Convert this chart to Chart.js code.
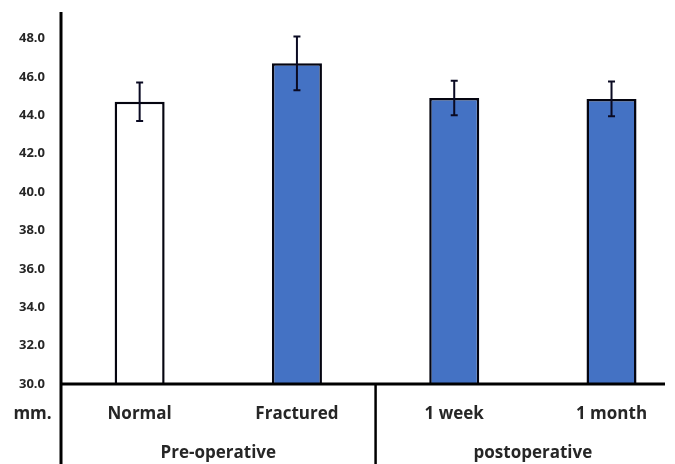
<!DOCTYPE html>
<html>
<head>
<meta charset="utf-8">
<script src="https://cdn.jsdelivr.net/npm/chart.js@4/dist/chart.umd.min.js"></script>
<style>
  html, body { margin: 0; padding: 0; background: #ffffff; }
  #wrap { width: 675px; height: 464px; }
</style>
</head>
<body>
<div id="wrap"><canvas id="chart" width="675" height="464"></canvas></div>
<script>
// Mean values (mm) with standard error for each measurement stage
const categories = ['Normal', 'Fractured', '1 week', '1 month'];
const meanValues = [44.7, 46.7, 44.9, 44.85];
const errorValues = [1.0, 1.4, 0.9, 0.9];
const groups = ['Pre-operative', 'postoperative'];
const groupSpans = [[0, 1], [2, 3]];
const yTickValues = [30, 32, 34, 36, 38, 40, 42, 44, 46, 48];
const unitLabel = 'mm.';

const fillColors = ['#ffffff', '#4472c4', '#4472c4', '#4472c4'];
const textColor = '#262626';
const fontFamily = '"Open Sans", Lato, "Liberation Sans", sans-serif';
const labelFont = 'bold 17px ' + fontFamily;

// Axis lines, the stage table below the axis and the group captions
const tablePlugin = {
  id: 'tablePlugin',
  afterDraw(chart) {
    const { ctx, chartArea, scales } = chart;
    const x = scales.x;
    const bottom = chart.height;
    ctx.save();
    ctx.strokeStyle = '#000000';
    ctx.lineCap = 'butt';
    // vertical axis, running down through the table
    ctx.lineWidth = 3;
    ctx.beginPath();
    ctx.moveTo(chartArea.left, chartArea.top);
    ctx.lineTo(chartArea.left, bottom);
    ctx.stroke();
    // horizontal axis
    ctx.beginPath();
    ctx.moveTo(chartArea.left, chartArea.bottom);
    ctx.lineTo(chartArea.right, chartArea.bottom);
    ctx.stroke();
    // divider between the two groups
    ctx.lineWidth = 2.5;
    for (let g = 0; g < groupSpans.length - 1; g++) {
      const px = x.getPixelForValue((groupSpans[g][1] + groupSpans[g + 1][0]) / 2);
      ctx.beginPath();
      ctx.moveTo(px, chartArea.bottom);
      ctx.lineTo(px, bottom);
      ctx.stroke();
    }
    // group captions
    ctx.fillStyle = textColor;
    ctx.font = labelFont;
    ctx.textAlign = 'center';
    ctx.textBaseline = 'middle';
    groups.forEach((name, g) => {
      const span = groupSpans[g];
      const cx = x.getPixelForValue((span[0] + span[1]) / 2);
      ctx.fillText(name, cx, chartArea.bottom + 69);
    });
    // unit label to the left of the category row
    ctx.fillText(unitLabel, chartArea.left / 2 + 2, chartArea.bottom + 30);
    ctx.restore();
  }
};

// Error bars on top of each column
const errorBarPlugin = {
  id: 'errorBars',
  afterDatasetsDraw(chart) {
    const { ctx, scales } = chart;
    const meta = chart.getDatasetMeta(0);
    ctx.save();
    ctx.strokeStyle = '#0a0a22';
    ctx.lineWidth = 2;
    meta.data.forEach((bar, i) => {
      const cx = bar.x;
      const yHi = scales.y.getPixelForValue(meanValues[i] + errorValues[i]);
      const yLo = scales.y.getPixelForValue(meanValues[i] - errorValues[i]);
      const cap = 3.5;
      ctx.beginPath();
      ctx.moveTo(cx, yHi);
      ctx.lineTo(cx, yLo);
      ctx.moveTo(cx - cap, yHi);
      ctx.lineTo(cx + cap, yHi);
      ctx.moveTo(cx - cap, yLo);
      ctx.lineTo(cx + cap, yLo);
      ctx.stroke();
    });
    ctx.restore();
  }
};

new Chart(document.getElementById('chart'), {
  type: 'bar',
  data: {
    datasets: [{
      data: meanValues.map((v, i) => ({ x: i, y: v })),
      backgroundColor: fillColors,
      borderColor: '#050510',
      borderWidth: 2.5,
      barPercentage: 1,
      categoryPercentage: 0.318
    }]
  },
  options: {
    responsive: false,
    animation: false,
    events: [],
    layout: { padding: { top: 12, right: 10, left: 0, bottom: 0 } },
    plugins: { legend: { display: false }, tooltip: { enabled: false } },
    scales: {
      x: {
        type: 'linear',
        min: -0.5,
        max: 3.34,
        offset: false,
        grid: { display: false, drawTicks: false, offset: false },
        border: { display: false },
        afterBuildTicks(scale) {
          scale.ticks = categories.map((_, i) => ({ value: i }));
        },
        afterFit(scale) {
          scale.height = 80;
          scale.paddingLeft = 0;
          scale.paddingRight = 0;
        },
        ticks: {
          autoSkip: false,
          maxRotation: 0,
          padding: 20,
          color: textColor,
          font: { family: fontFamily, size: 17, weight: 'bold' },
          callback: (v) => categories[v]
        }
      },
      y: {
        min: 30,
        max: 49.375,
        grid: { display: false, drawTicks: false },
        border: { display: false },
        afterBuildTicks(scale) {
          scale.ticks = yTickValues.map(v => ({ value: v }));
        },
        afterFit(scale) {
          scale.width = 61;
          scale.paddingTop = 0;
          scale.paddingBottom = 0;
        },
        ticks: {
          padding: 16,
          color: textColor,
          font: { family: fontFamily, size: 13, weight: 'bold' },
          callback: (v) => Number(v).toFixed(1)
        }
      }
    }
  },
  plugins: [tablePlugin, errorBarPlugin]
});
</script>
</body>
</html>
